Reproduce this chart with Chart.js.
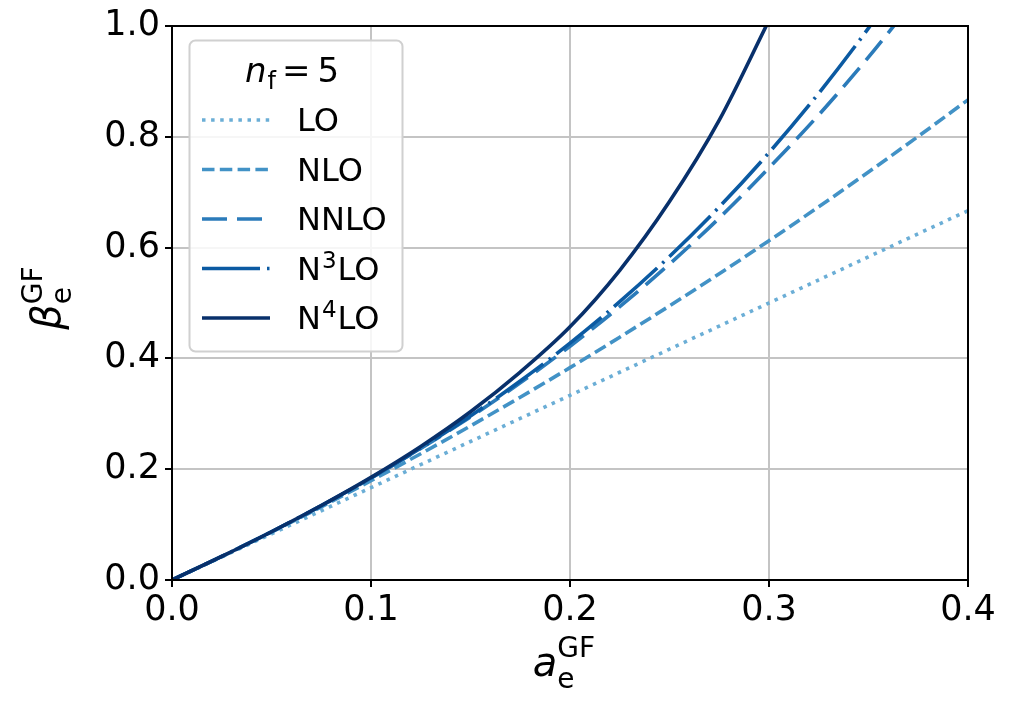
<!DOCTYPE html>
<html>
<head>
<meta charset="utf-8">
<script src="https://cdn.jsdelivr.net/npm/chart.js@4.4.1/dist/chart.umd.min.js"></script>
<style>
  html, body { margin: 0; padding: 0; background: #fff; }
  canvas { display: block; }
</style>
</head>
<body>
<canvas id="betaChart" width="1014" height="704"></canvas>
<script>
// coupling a_e^GF sampled every 0.025
var couplings = [0, 0.025, 0.05, 0.075, 0.1, 0.125, 0.15, 0.175, 0.2, 0.225, 0.25, 0.275, 0.3, 0.325, 0.35, 0.375, 0.4];

// beta_e^GF at each order (curves that leave the frame stop just above 1.0)
var betaLO   = [0, 0.0417, 0.0833, 0.125, 0.1667, 0.2083, 0.25, 0.2917, 0.3333, 0.375, 0.4167, 0.4583, 0.5, 0.5417, 0.5833, 0.625, 0.6667];
var betaNLO  = [0, 0.0424, 0.0865, 0.1320, 0.1792, 0.2279, 0.2781, 0.3299, 0.3833, 0.4383, 0.4948, 0.5529, 0.6125, 0.6737, 0.7365, 0.8008, 0.8667];
var betaNNLO = [0, 0.0425, 0.0871, 0.1341, 0.1840, 0.2373, 0.2944, 0.3559, 0.4220, 0.4933, 0.5703, 0.6534, 0.7440, 0.8396, 0.9437, 1.0557];
var betaN3LO = [0, 0.0425, 0.0871, 0.1342, 0.1844, 0.2381, 0.2962, 0.3592, 0.4276, 0.5023, 0.5840, 0.6734, 0.7714, 0.8787, 0.9962, 1.1249];
var betaN4LO = [0, 0.0425, 0.0871, 0.1344, 0.1853, 0.2411, 0.3037, 0.3753, 0.4570, 0.5590, 0.6830, 0.8300, 1.0103];

var orderLabels = ["LO", "NLO", "NNLO", "N^3LO", "N^4LO"];
var orderColors = ["#6baed6", "#4292c6", "#2b7bba", "#0b5aa2", "#08306b"];
var orderDashes = [[3.5, 5.6], [12.5, 5.3], [25, 10], [58, 7, 2.5, 7], []];

var xTicks = [0, 0.1, 0.2, 0.3, 0.4];
var yTicks = [0, 0.2, 0.4, 0.6, 0.8, 1.0];

var FONT = "'DejaVu Sans', sans-serif";
var series = [betaLO, betaNLO, betaNNLO, betaN3LO, betaN4LO];

// draws base text with a subscript and superscript stacked after it
function drawScripted(ctx, base, sub, sup, x, y, opts) {
  ctx.font = opts.baseFont;
  var wb = ctx.measureText(base).width;
  ctx.font = opts.smallFont;
  var ws = sub ? ctx.measureText(sub).width : 0;
  var wp = sup ? ctx.measureText(sup).width : 0;
  var total = wb + Math.max(ws, wp);
  var sx = opts.align === "center" ? x - total / 2 : x;
  ctx.font = opts.baseFont;
  ctx.fillText(base, sx, y);
  ctx.font = opts.smallFont;
  if (sub) ctx.fillText(sub, sx + wb + (opts.subShift || 0), y + opts.subDy);
  if (sup) ctx.fillText(sup, sx + wb + (opts.supShift || 0), y + opts.supDy);
  return sx + wb + Math.max(ws, wp);
}

function drawLabel(ctx, text, x, y) {
  // "N^3LO" -> N, raised 3, LO
  var m = text.match(/^(.*)\^(.)(.*)$/);
  ctx.textBaseline = "alphabetic";
  ctx.font = "32px " + FONT;
  if (!m) {
    ctx.fillText(text, x, y);
    return;
  }
  ctx.fillText(m[1], x, y);
  var cx = x + ctx.measureText(m[1]).width;
  ctx.font = "23px " + FONT;
  ctx.fillText(m[2], cx + 1, y - 12);
  cx += ctx.measureText(m[2]).width + 2;
  ctx.font = "32px " + FONT;
  ctx.fillText(m[3], cx, y);
}

var decorations = {
  id: "decorations",
  afterDraw: function(chart) {
    var ctx = chart.ctx;
    var area = chart.chartArea;
    ctx.save();

    // frame on all four sides
    ctx.strokeStyle = "#000";
    ctx.lineWidth = 2;
    ctx.strokeRect(area.left, area.top, area.right - area.left, area.bottom - area.top);

    // legend box
    var bx = 189.5, by = 40.5, bw = 213, bh = 311;
    ctx.beginPath();
    ctx.roundRect(bx, by, bw, bh, 6);
    ctx.fillStyle = "rgba(255,255,255,0.85)";
    ctx.fill();
    ctx.strokeStyle = "#d0d0d0";
    ctx.lineWidth = 2;
    ctx.stroke();

    ctx.fillStyle = "#000";
    ctx.textAlign = "left";
    ctx.textBaseline = "alphabetic";
    var end = drawScripted(ctx, "n", "f", "", 245, 82, {
      baseFont: "italic 34px " + FONT, smallFont: "24px " + FONT,
      subDy: 7, supDy: 0, subShift: 1
    });
    ctx.font = "34px " + FONT;
    ctx.fillText("=", end + 7, 82);
    ctx.fillText("5", end + 7 + ctx.measureText("=").width + 7, 82);

    chart.data.datasets.forEach(function(ds, i) {
      var yc = 120 + i * 49.5;
      ctx.beginPath();
      ctx.setLineDash(ds.borderDash || []);
      ctx.lineDashOffset = 0;
      ctx.strokeStyle = ds.borderColor;
      ctx.lineWidth = ds.borderWidth;
      ctx.lineCap = "butt";
      ctx.moveTo(202, yc);
      ctx.lineTo(270, yc);
      ctx.stroke();
      ctx.setLineDash([]);
      ctx.fillStyle = "#000";
      drawLabel(ctx, orderLabels[i], 297, yc + 11);
    });

    // axis titles
    ctx.fillStyle = "#000";
    drawScripted(ctx, "a", "e", "GF", 564, 676, {
      baseFont: "italic 40px " + FONT, smallFont: "28px " + FONT,
      subDy: 12, supDy: -19, align: "center"
    });
    ctx.translate(60, 298);
    ctx.rotate(-Math.PI / 2);
    drawScripted(ctx, "\u03b2", "e", "GF", 0, 0, {
      baseFont: "italic 40px " + FONT, smallFont: "28px " + FONT,
      subDy: 11, supDy: -18, align: "center"
    });
    ctx.restore();
  }
};

new Chart(document.getElementById("betaChart"), {
  type: "line",
  data: {
    datasets: series.map(function(values, i) {
      return {
        label: orderLabels[i],
        data: values.map(function(v, j) { return { x: couplings[j], y: v }; }),
        borderColor: orderColors[i],
        borderDash: orderDashes[i],
        borderWidth: 3.6,
        borderCapStyle: "butt",
        pointRadius: 0,
        fill: false,
        cubicInterpolationMode: "monotone",
        clip: 0,
        order: 4 - i
      };
    })
  },
  options: {
    responsive: false,
    animation: false,
    layout: { padding: { top: 23, right: 46, left: 0, bottom: 0 } },
    plugins: { legend: { display: false }, tooltip: { enabled: false } },
    scales: {
      x: {
        type: "linear",
        min: xTicks[0],
        max: xTicks[xTicks.length - 1],
        afterFit: function(scale) { scale.height = 124; },
        afterBuildTicks: function(scale) { scale.ticks = xTicks.map(function(v) { return { value: v }; }); },
        ticks: {
          color: "#000",
          font: { family: FONT, size: 35 },
          padding: 3,
          maxRotation: 0,
          callback: function(v) { return v.toFixed(1); }
        },
        grid: { color: "#c4c4c4", lineWidth: 2, tickColor: "#000", tickLength: 7, tickWidth: 2 },
        border: { display: true, color: "#000", width: 2 }
      },
      y: {
        type: "linear",
        min: yTicks[0],
        max: yTicks[yTicks.length - 1],
        afterFit: function(scale) { scale.width = 172; },
        afterBuildTicks: function(scale) { scale.ticks = yTicks.map(function(v) { return { value: v }; }); },
        ticks: {
          color: "#000",
          font: { family: FONT, size: 35 },
          padding: 5,
          callback: function(v) { return v.toFixed(1); }
        },
        grid: { color: "#c4c4c4", lineWidth: 2, tickColor: "#000", tickLength: 7, tickWidth: 2 },
        border: { display: true, color: "#000", width: 2 }
      }
    }
  },
  plugins: [decorations]
});
</script>
</body>
</html>
